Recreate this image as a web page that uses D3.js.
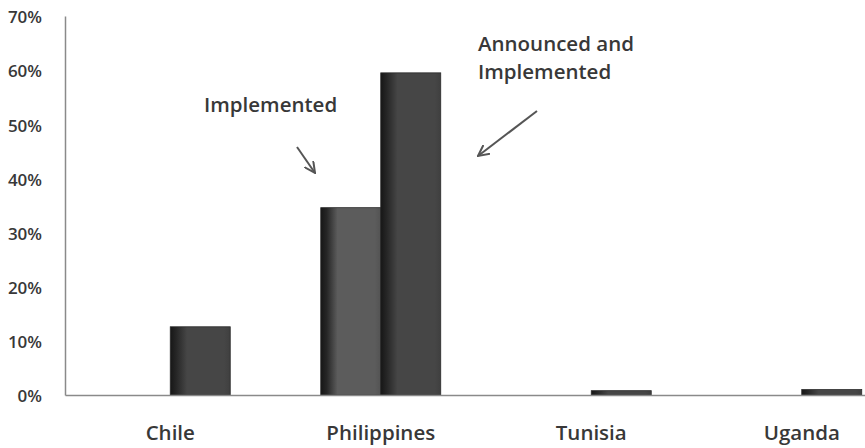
<!DOCTYPE html>
<html>
<head>
<meta charset="utf-8">
<script src="https://cdn.jsdelivr.net/npm/d3@7"></script>
<style>
  body { margin: 0; background: #fff; }
  text { font-family: "Open Sans", "Lato", sans-serif; font-weight: 600; fill: #383838; }
</style>
</head>
<body>
<script>
var width = 865,
    height = 448;

// chart values
var categories = ["Chile", "Philippines", "Tunisia", "Uganda"];
var seriesNames = ["Implemented", "Announced and Implemented"];
var implemented = [0, 0.346, 0, 0];
var announced = [0.126, 0.595, 0.008, 0.010];
var yTicks = [0, 0.1, 0.2, 0.3, 0.4, 0.5, 0.6, 0.7];

var margin = { left: 65, top: 16, bottom: 53 };
var bandStep = 210.5;

var svg = d3.select("body").append("svg")
    .attr("width", width)
    .attr("height", height);

var x0 = d3.scaleBand()
    .domain(categories)
    .range([margin.left, margin.left + bandStep * categories.length])
    .paddingInner(0.43)
    .paddingOuter(0.215);

var x1 = d3.scaleBand()
    .domain(seriesNames)
    .range([0, x0.bandwidth()]);

var y = d3.scaleLinear()
    .domain([0, 0.7])
    .range([height - margin.bottom, margin.top]);

// bar shading: dark left edge fading into the body colour
var defs = svg.append("defs");
var shades = { "Implemented": "#5c5c5c", "Announced and Implemented": "#464646" };
seriesNames.forEach(function (s, i) {
    var g = defs.append("linearGradient")
        .attr("id", "grad" + i)
        .attr("x1", "0%").attr("x2", "100%")
        .attr("y1", "0%").attr("y2", "0%");
    g.append("stop").attr("offset", "0%").attr("stop-color", "#161616");
    g.append("stop").attr("offset", "10%").attr("stop-color", "#262626");
    g.append("stop").attr("offset", "28%").attr("stop-color", shades[s]);
    g.append("stop").attr("offset", "90%").attr("stop-color", shades[s]);
    g.append("stop").attr("offset", "100%").attr("stop-color", d3.color(shades[s]).darker(0.3));
});

var rows = categories.map(function (c, i) {
    return { cat: c, values: [
        { key: seriesNames[0], v: implemented[i] },
        { key: seriesNames[1], v: announced[i] }
    ] };
});

var groups = svg.selectAll(".group")
    .data(rows)
    .enter().append("g")
    .attr("class", "group")
    .attr("transform", function (d) { return "translate(" + x0(d.cat) + ",0)"; });

groups.selectAll("rect")
    .data(function (d) { return d.values.filter(function (v) { return v.v > 0; }); })
    .enter().append("rect")
    .attr("x", function (d) { return x1(d.key); })
    .attr("width", x1.bandwidth())
    .attr("y", function (d) { return y(d.v); })
    .attr("height", function (d) { return y(0) - y(d.v); })
    .attr("fill", function (d) { return "url(#grad" + seriesNames.indexOf(d.key) + ")"; })
    .attr("stroke", "#2a2a2a")
    .attr("stroke-width", 0.8);

// y axis
var yAxis = svg.append("g")
    .attr("transform", "translate(" + margin.left + ",0)")
    .call(d3.axisLeft(y).tickValues(yTicks).tickFormat(d3.format(".0%")).tickSize(0).tickPadding(23));
yAxis.select(".domain").attr("stroke", "#8a8a8a").attr("stroke-width", 1.5);
yAxis.selectAll("text").style("font-size", "17px").attr("fill", "#333").attr("dy", "0.4em");

// x axis
var xAxis = svg.append("g")
    .attr("transform", "translate(0," + y(0) + ")")
    .call(d3.axisBottom(x0).tickSize(0).tickPadding(30));
xAxis.select(".domain").attr("stroke", "#8a8a8a").attr("stroke-width", 1.5);
xAxis.selectAll("text").style("font-size", "20.5px").attr("fill", "#333");

// annotations
var arrowColor = "#555";
defs.append("marker")
    .attr("id", "head")
    .attr("viewBox", "0 -6 12 12")
    .attr("refX", 11)
    .attr("markerWidth", 12)
    .attr("markerHeight", 12)
    .attr("markerUnits", "userSpaceOnUse")
    .attr("orient", "auto")
    .append("path")
    .attr("d", "M0,-5.5L11,0L0,5.5")
    .attr("fill", "none")
    .attr("stroke", arrowColor)
    .attr("stroke-width", 2);

var notes = [
    { lines: ["Implemented"], x: 204, y: 112, from: [297, 147], to: [315, 173] },
    { lines: ["Announced and", "Implemented"], x: 478, y: 51, from: [537, 111], to: [478, 156] }
];

notes.forEach(function (n) {
    var t = svg.append("text")
        .attr("x", n.x)
        .attr("y", n.y)
        .style("font-size", "20.5px")
        .attr("fill", "#404040");
    n.lines.forEach(function (l, i) {
        t.append("tspan").attr("x", n.x).attr("dy", i ? 28 : 0).text(l);
    });
    svg.append("path")
        .attr("d", "M" + n.from + "L" + n.to)
        .attr("stroke", arrowColor)
        .attr("stroke-width", 2)
        .attr("marker-end", "url(#head)");
});
</script>
</body>
</html>
